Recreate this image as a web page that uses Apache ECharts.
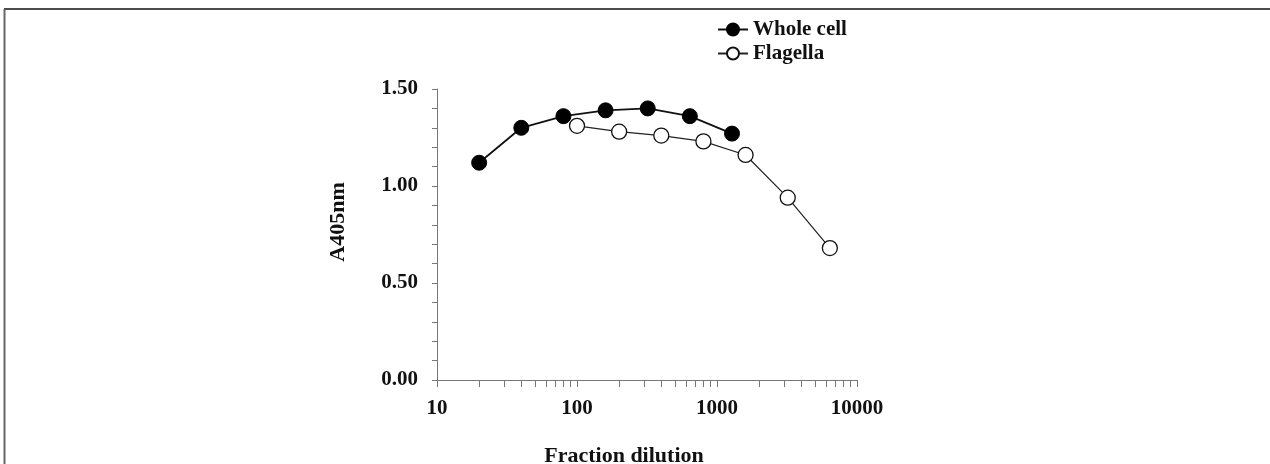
<!DOCTYPE html>
<html>
<head>
<meta charset="utf-8">
<script src="https://cdn.jsdelivr.net/npm/echarts@6/dist/echarts.min.js"></script>
<style>
  html, body { margin: 0; padding: 0; background: #fff; }
  #chart { width: 1270px; height: 464px; }
</style>
</head>
<body>
<div id="chart"></div>
<script>
// values
const wholeCellDilution = [20, 40, 80, 160, 320, 640, 1280];
const wholeCellA405 = [1.12, 1.30, 1.36, 1.39, 1.40, 1.36, 1.27];
const flagellaDilution = [100, 200, 400, 800, 1600, 3200, 6400];
const flagellaA405 = [1.31, 1.28, 1.26, 1.23, 1.16, 0.94, 0.68];
const xLabelValues = [10, 100, 1000, 10000];
const xTickValues = [10, 20, 30, 40, 50, 60, 70, 80, 90, 100, 200, 300, 400, 500, 600, 700, 800, 900,
  1000, 2000, 3000, 4000, 5000, 6000, 7000, 8000, 9000, 10000];

const font = "'Liberation Serif', 'Times New Roman', serif";
const chart = echarts.init(document.getElementById("chart"));

chart.setOption({
  animation: false,
  grid: {
    left: 437,
    right: 413,
    top: 89,
    bottom: 84,
    outerBoundsMode: "none",
  },
  legend: {
    orient: "vertical",
    left: 712,
    top: 14,
    itemWidth: 30,
    itemHeight: 15,
    itemGap: 3,
    textStyle: {
      fontFamily: font,
      fontWeight: "bold",
      fontSize: 21,
      color: "#111",
    },
    data: ["Whole cell", "Flagella"],
  },
  xAxis: {
    type: "log",
    logBase: 10,
    min: 10,
    max: 10000,
    axisLine: { lineStyle: { color: "#777", width: 1 } },
    axisTick: {
      show: true,
      length: 7,
      customValues: xTickValues,
      lineStyle: { color: "#777" },
    },
    minorTick: { show: false },
    splitLine: { show: false },
    axisLabel: {
      customValues: xLabelValues,
      margin: 18,
      formatter: (v) => String(v),
      fontFamily: font,
      fontWeight: "bold",
      fontSize: 21,
      color: "#111",
    },
  },
  yAxis: {
    type: "value",
    min: 0,
    max: 1.5,
    interval: 0.5,
    axisLine: { show: true, lineStyle: { color: "#777", width: 1 } },
    axisTick: { show: true, length: 5, lineStyle: { color: "#777" } },
    minorTick: { show: true, splitNumber: 5, length: 5, lineStyle: { color: "#777" } },
    splitLine: { show: false },
    axisLabel: {
      margin: 19,
      formatter: (v) => v.toFixed(2),
      fontFamily: font,
      fontWeight: "bold",
      fontSize: 21,
      color: "#111",
    },
  },
  graphic: [
    {
      type: "line",
      shape: { x1: 4, y1: 9, x2: 1270, y2: 9 },
      style: { stroke: "#111", lineWidth: 1.5 },
    },
    {
      type: "line",
      shape: { x1: 4.5, y1: 9, x2: 4.5, y2: 464 },
      style: { stroke: "#666", lineWidth: 2 },
    },
    {
      type: "text",
      x: 338,
      y: 222,
      rotation: Math.PI / 2,
      style: {
        text: "A405nm",
        fontFamily: font,
        fontWeight: "bold",
        fontSize: 22,
        fill: "#111",
        align: "center",
        verticalAlign: "middle",
      },
    },
    {
      type: "text",
      x: 624,
      y: 456,
      style: {
        text: "Fraction dilution",
        fontFamily: font,
        fontWeight: "bold",
        fontSize: 22,
        fill: "#111",
        align: "center",
        verticalAlign: "middle",
      },
    },
  ],
  series: [
    {
      name: "Whole cell",
      type: "line",
      data: wholeCellDilution.map((d, i) => [d, wholeCellA405[i]]),
      symbol: "circle",
      symbolSize: 15,
      lineStyle: { color: "#111", width: 1.8 },
      itemStyle: { color: "#000", borderColor: "#000", borderWidth: 1 },
    },
    {
      name: "Flagella",
      type: "line",
      data: flagellaDilution.map((d, i) => [d, flagellaA405[i]]),
      symbol: "circle",
      symbolSize: 15,
      lineStyle: { color: "#222", width: 1.2 },
      itemStyle: { color: "#fff", borderColor: "#111", borderWidth: 1.3 },
    },
  ],
});
window.addEventListener("resize", () => chart.resize());
</script>
</body>
</html>
